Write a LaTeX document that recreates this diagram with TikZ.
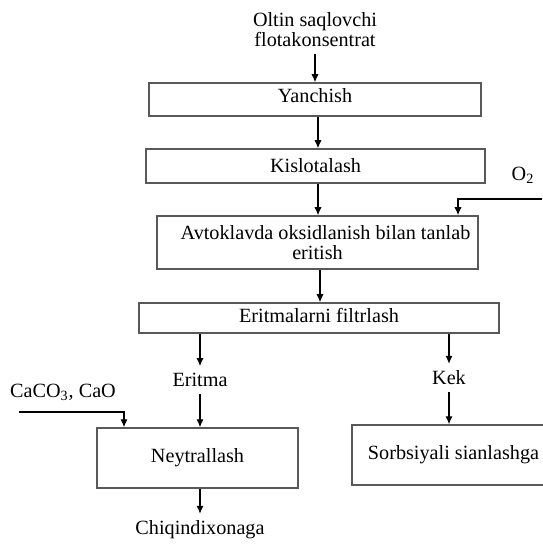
\documentclass[tikz,border=0pt]{standalone}
\usepackage{fontspec}
\setmainfont{Liberation Serif}
\usetikzlibrary{arrows.meta}
\begin{document}
\begin{tikzpicture}[x=0.5pt,y=-0.5pt,
    font=\fontsize{10.1}{10}\selectfont,
    box/.style={draw=black!65, line width=0.75pt, inner sep=0pt, align=center},
    arr/.style={-{Latex[length=4pt,width=3.6pt]}, line width=0.6pt}]
    \useasboundingbox (0,0) rectangle (542,544);
    \node[align=center] (src) at (315,30) {Oltin saqlovchi\\flotakonsentrat};
    \node[box, minimum width=166pt, minimum height=16.5pt, text depth=4pt] (yan) at (315,99.5) {Yanchish};
    \node[box, minimum width=169.5pt, minimum height=17pt] (kis) at (315.5,166) {Kislotalash};
    \node[box, minimum width=160.5pt, minimum height=26.5pt] (avt) at (317.5,242.5) {\hspace*{8pt}Avtoklavda oksidlanish bilan tanlab\\eritish};
    \node[box, minimum width=180pt, minimum height=15pt, text depth=3pt] (fil) at (319,318) {Eritmalarni filtrlash};
    \node (oxy) at (523,175) {O\textsubscript{2}};
    \node (eri) at (200,380) {Eritma};
    \node (kek) at (449,378) {Kek};
    \node (caco) at (63,392) {CaCO\textsubscript{3}, CaO};
    \node[box, minimum width=100.5pt, minimum height=30pt] (ney) at (197.5,458) {Neytrallash};
    \node[box, minimum width=101.5pt, minimum height=30pt] (sor) at (453.5,455) {Sorbsiyali sianlashga};
    \node (chi) at (200,530) {Chiqindixonaga};
    \coordinate (oin) at (542,199);
    \coordinate (oturn) at (458,199);
    \coordinate (cin) at (19,412);
    \coordinate (cturn) at (124,412);
    \draw[arr] (src) -- (src |- yan.north);
    \draw[arr] (yan.south -| 318,0) -- (kis.north -| 318,0);
    \draw[arr] (kis.south -| 318,0) -- (avt.north -| 318,0);
    \draw[arr] (avt.south -| 320,0) -- (fil.north -| 320,0);
    \draw[arr] (oin) -- (oturn) -- (oturn |- avt.north);
    \draw[arr] (fil.south -| eri) -- (eri.north);
    \draw[arr] (fil.south -| kek) -- (kek.north);
    \draw[arr] (eri.south) -- (eri.south |- ney.north);
    \draw[arr] (kek.south) -- (kek.south |- sor.north);
    \draw[arr] (cin) -- (cturn) -- (cturn |- ney.north);
    \draw[arr] (ney.south -| chi) -- (chi.north);
\end{tikzpicture}
\end{document}
